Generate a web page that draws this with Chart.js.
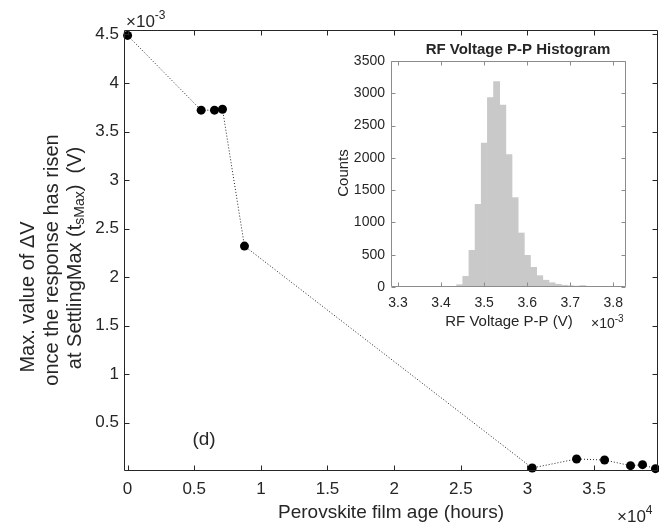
<!DOCTYPE html>
<html>
<head>
<meta charset="utf-8">
<title>Perovskite film age - max dV</title>
<script src="https://cdn.jsdelivr.net/npm/chart.js@4.4.1/dist/chart.umd.min.js"></script>
<style>
    body { margin: 0; background: #fff; font-family: "Liberation Sans", Arial, sans-serif; }
    .wrap { position: relative; width: 659px; height: 531px; }
    #mainChart { position: absolute; left: 0; top: 0; }
    #histChart { position: absolute; left: 330px; top: 30px; }
</style>
</head>
<body>
<div class="wrap">
    <canvas id="mainChart" width="659" height="531"></canvas>
    <canvas id="histChart" width="310" height="310"></canvas>
</div>
<script>
// main plot: film age (x 1e4 hours) vs max dV (x 1e-3 V)
const filmAge   = [0, 0.552, 0.652, 0.712, 0.877, 3.036, 3.369, 3.579, 3.774, 3.864, 3.961];
const maxDeltaV = [4.49, 3.72, 3.72, 3.73, 2.32, 0.034, 0.127, 0.116, 0.058, 0.068, 0.027];
const ageTicks  = [0, 0.5, 1, 1.5, 2, 2.5, 3, 3.5];
const voltTicks = [0.5, 1, 1.5, 2, 2.5, 3, 3.5, 4, 4.5];

// inset histogram: RF voltage P-P (x 1e-3 V)
const binCentres = [3.3002, 3.3145, 3.3288, 3.3431, 3.3574, 3.3717, 3.3860, 3.4003, 3.4146,
                    3.4289, 3.4432, 3.4575, 3.4718, 3.4861, 3.5004, 3.5147, 3.5290, 3.5433,
                    3.5576, 3.5719, 3.5862, 3.6005, 3.6148, 3.6291, 3.6434, 3.6577, 3.6720,
                    3.6863, 3.7006, 3.7149, 3.7292, 3.7435, 3.7578, 3.7721, 3.7864, 3.8007, 3.8150];
const binCounts  = [2, 3, 2, 3, 2, 3, 3, 4, 5,
                    10, 36, 165, 568, 1280, 2230, 2932, 3180, 2819,
                    2050, 1384, 836, 490, 305, 176, 105, 66, 43,
                    28, 20, 14, 22, 8, 5, 4, 3, 2, 2];
const rfTicks    = [3.3, 3.4, 3.5, 3.6, 3.7, 3.8];
const countTicks = [0, 500, 1000, 1500, 2000, 2500, 3000, 3500];

const FONT = 'Liberation Sans';
const INK = '#262626';

function font(size, bold) {
    return (bold ? 'bold ' : '') + size + 'px "' + FONT + '"';
}

// draws a sequence of [text, size, dy] pieces starting at x
function drawPieces(ctx, pieces, x, y) {
    pieces.forEach(([txt, size, dy]) => {
        ctx.font = font(size);
        ctx.fillText(txt, x, y + dy);
        x += ctx.measureText(txt).width;
    });
}

function piecesWidth(ctx, pieces) {
    return pieces.reduce((w, [txt, size]) => {
        ctx.font = font(size);
        return w + ctx.measureText(txt).width;
    }, 0);
}

// box round the axes with inward ticks on all four sides
function drawFrame(ctx, chart, xVals, yVals, color, len) {
    const a = chart.chartArea;
    const xs = chart.scales.x, ys = chart.scales.y;
    const L = Math.round(a.left) - 0.5, R = Math.round(a.right) - 0.5;
    const T = Math.round(a.top) + 0.5, B = Math.round(a.bottom) - 0.5;
    ctx.strokeStyle = color;
    ctx.lineWidth = 1;
    ctx.beginPath();
    ctx.rect(L, T, R - L, B - T);
    xVals.forEach(v => {
        const px = Math.round(xs.getPixelForValue(v)) + 0.5;
        ctx.moveTo(px, B); ctx.lineTo(px, B - len);
        ctx.moveTo(px, T); ctx.lineTo(px, T + len);
    });
    yVals.forEach(v => {
        const py = Math.round(ys.getPixelForValue(v)) + 0.5;
        ctx.moveTo(L, py); ctx.lineTo(L + len, py);
        ctx.moveTo(R, py); ctx.lineTo(R - len, py);
    });
    ctx.stroke();
}

const mainDecor = {
    id: 'mainDecor',
    afterDraw(chart) {
        const ctx = chart.ctx;
        ctx.save();
        drawFrame(ctx, chart, ageTicks, voltTicks, INK, 5);
        ctx.fillStyle = INK;
        ctx.textBaseline = 'alphabetic';
        ctx.textAlign = 'left';
        // exponent labels
        drawPieces(ctx, [['\u00d710', 17, 0], ['-3', 12, -8]], 126, 27);
        drawPieces(ctx, [['\u00d710', 17, 0], ['4', 12, -8]], 617, 522);
        // panel tag
        ctx.font = font(19);
        ctx.textAlign = 'center';
        ctx.textBaseline = 'middle';
        ctx.fillText('(d)', 204, 440);
        // x axis title
        ctx.fillText('Perovskite film age (hours)', 391, 513);
        // y axis title, three rotated lines
        const lines = [
            { x: 28, y: 297, pieces: [['Max. value of \u0394V', 20, 0]] },
            { x: 52, y: 260, pieces: [['once the response has risen', 20, 0]] },
            { x: 75, y: 258, pieces: [['at SettlingMax (t', 20, 0], ['sMax', 14, 5], [')  (V)', 20, 0]] }
        ];
        ctx.textAlign = 'left';
        lines.forEach(ln => {
            ctx.save();
            ctx.translate(ln.x, ln.y);
            ctx.rotate(-Math.PI / 2);
            const w = piecesWidth(ctx, ln.pieces);
            drawPieces(ctx, ln.pieces, -w / 2, 0);
            ctx.restore();
        });
        ctx.restore();
    }
};

const histDecor = {
    id: 'histDecor',
    afterDraw(chart) {
        const ctx = chart.ctx;
        ctx.save();
        drawFrame(ctx, chart, rfTicks, countTicks, '#8c8c8c', 4);
        ctx.fillStyle = INK;
        ctx.textAlign = 'center';
        ctx.textBaseline = 'middle';
        ctx.font = font(15, true);
        ctx.fillText('RF Voltage P-P Histogram', 188, 20);
        ctx.font = font(15);
        ctx.fillText('RF Voltage P-P (V)', 179, 292);
        ctx.save();
        ctx.translate(14, 143);
        ctx.rotate(-Math.PI / 2);
        ctx.fillText('Counts', 0, 0);
        ctx.restore();
        ctx.textAlign = 'left';
        ctx.textBaseline = 'alphabetic';
        drawPieces(ctx, [['\u00d710', 14, 0], ['-3', 10, -6]], 261, 298);
        ctx.restore();
    }
};

const noGrid = { display: false, drawTicks: false, tickLength: 0 };

new Chart(document.getElementById('mainChart'), {
    type: 'line',
    data: {
        datasets: [{
            data: filmAge.map((x, i) => ({ x: x, y: maxDeltaV[i] })),
            borderColor: '#222',
            borderWidth: 1,
            borderDash: [1, 2],
            pointRadius: 4.5,
            pointBackgroundColor: '#000',
            pointBorderColor: '#000',
            pointBorderWidth: 0,
            tension: 0,
            clip: false
        }]
    },
    options: {
        responsive: false,
        animation: false,
        events: [],
        layout: { padding: { top: 30, right: 1, left: 0, bottom: 0 }, autoPadding: false },
        plugins: { legend: { display: false }, tooltip: { enabled: false } },
        scales: {
            x: {
                type: 'linear',
                min: -0.0195,
                max: 3.98,
                grid: noGrid,
                border: { display: false },
                afterBuildTicks: s => { s.ticks = ageTicks.map(v => ({ value: v })); },
                afterFit: s => { s.height = 60; },
                ticks: {
                    font: { family: FONT, size: 17 }, color: INK, padding: 8,
                    maxRotation: 0, autoSkip: false, callback: v => String(v)
                }
            },
            y: {
                type: 'linear',
                min: 0.003,
                max: 4.546,
                grid: noGrid,
                border: { display: false },
                afterBuildTicks: s => { s.ticks = voltTicks.map(v => ({ value: v })); },
                afterFit: s => { s.width = 125; },
                ticks: {
                    font: { family: FONT, size: 17 }, color: INK, padding: 6,
                    autoSkip: false, callback: v => String(v)
                }
            }
        }
    },
    plugins: [mainDecor]
});

new Chart(document.getElementById('histChart'), {
    type: 'bar',
    data: {
        datasets: [{
            data: binCentres.map((x, i) => ({ x: x, y: binCounts[i] })),
            backgroundColor: '#c9c9c9',
            borderWidth: 0,
            barPercentage: 1,
            categoryPercentage: 1
        }]
    },
    options: {
        responsive: false,
        animation: false,
        events: [],
        layout: { padding: { top: 31, right: 14, left: 0, bottom: 0 }, autoPadding: false },
        plugins: { legend: { display: false }, tooltip: { enabled: false } },
        scales: {
            x: {
                type: 'linear',
                min: 3.286,
                max: 3.8295,
                offset: false,
                grid: noGrid,
                border: { display: false },
                afterBuildTicks: s => { s.ticks = rfTicks.map(v => ({ value: v })); },
                afterFit: s => { s.height = 53; },
                ticks: {
                    font: { family: FONT, size: 14 }, color: INK, padding: 8,
                    maxRotation: 0, autoSkip: false, callback: v => v.toFixed(1)
                }
            },
            y: {
                type: 'linear',
                min: 0,
                max: 3500,
                grid: noGrid,
                border: { display: false },
                afterBuildTicks: s => { s.ticks = countTicks.map(v => ({ value: v })); },
                afterFit: s => { s.width = 62; },
                ticks: {
                    font: { family: FONT, size: 14 }, color: INK, padding: 7,
                    autoSkip: false, callback: v => String(v)
                }
            }
        }
    },
    plugins: [histDecor]
});
</script>
</body>
</html>
